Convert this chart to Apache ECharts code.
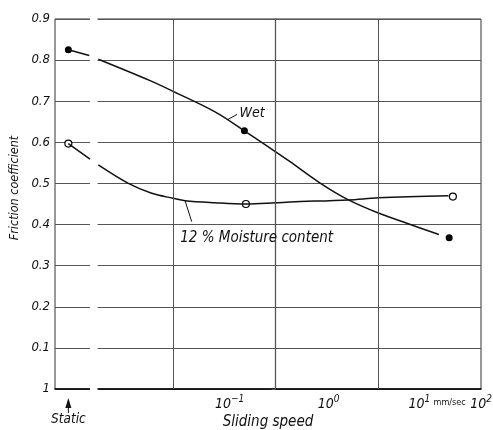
<!DOCTYPE html>
<html>
<head>
<meta charset="utf-8">
<title>Friction coefficient vs sliding speed</title>
<script src="https://cdn.jsdelivr.net/npm/echarts@6/dist/echarts.min.js"></script>
<style>
  html, body { margin: 0; padding: 0; background: #fff; }
  #chart { width: 493px; height: 430px; }
</style>
</head>
<body>
<div id="chart"></div>
<script>
// x values are log10 of sliding speed (mm/sec); static tests sit left of the axis break
const staticX = -2.02
const xMin = -2.15
const xMax = 2
const breakFrom = -1.80
const breakTo = -1.745
const decadeLines = [-1, 0, 1]
const decadeLabels = [-1, 0, 1, 2]

// y axis ticks
const yTicks = [0, 0.1, 0.2, 0.3, 0.4, 0.5, 0.6, 0.7, 0.8, 0.9]

// measured points
const wetDotsX = [staticX, -0.305, 1.69]
const wetDotsY = [0.825, 0.628, 0.368]
const moistDotsX = [staticX, -0.29, 1.726]
const moistDotsY = [0.597, 0.450, 0.468]

// drawn curves, static part (before the break)
const wetStaticX = [staticX, -1.816]
const wetStaticY = [0.825, 0.811]
const moistStaticX = [staticX, -1.809]
const moistStaticY = [0.597, 0.559]

// drawn curves, sliding part
const wetCurveX = [-1.728, -1.224, -1.0, -0.591, -0.305, 0.0, 0.14, 0.433, 0.709, 1.0, 1.278, 1.59]
const wetCurveY = [0.802, 0.750, 0.724, 0.674, 0.628, 0.577, 0.553, 0.501, 0.460, 0.428, 0.403, 0.376]
const moistCurveX = [-1.728, -1.435, -1.208, -1.0, -0.883, -0.591, -0.29, 0.0, 0.14, 0.709, 1.0, 1.683]
const moistCurveY = [0.545, 0.500, 0.476, 0.464, 0.458, 0.453, 0.450, 0.453, 0.455, 0.460, 0.465, 0.470]

// labels and leader lines (data coords)
const wetLabel = { text: 'Wet', at: [-0.357, 0.671], leader: [[-0.47, 0.655], [-0.376, 0.668]] }
const moistLabel = { text: '12 % Moisture content', at: [-0.935, 0.367], leader: [[-0.883, 0.458], [-0.818, 0.407]] }

const FONT = "'DejaVu Sans Condensed', 'DejaVu Sans', sans-serif"
const INK = '#111'

const toPairs = (xs, ys) => xs.map((x, i) => [x, ys[i]])

const near = (a, b) => Math.abs(a - b) < 1e-6

// spacer widths move the printed exponents to where the figure has them
const labelShift = { '-1': 113, '0': 106, '1': 82 }

const xLabelFormatter = (value) => {
  if (near(value, staticX)) return '{sp|\u00a0}\n{st|Static}'
  // unit sits just left of 10^2, the trailing spacer keeps 10^2 on its tick
  if (near(value, 2)) return '{u|mm/sec}{gp|}{b|10}{s|2}{h|}'
  const key = String(Math.round(value))
  const exp = value < 0 ? '\u22121' : key
  return '{g' + key.replace('-', 'm') + '|}{b|10}{s|' + exp + '}'
}

// small arrow under the static points
const renderStaticArrow = (params, api) => {
  const [px, py] = api.coord([api.value(0), api.value(1)])
  return {
    type: 'group',
    children: [
      {
        type: 'polygon',
        shape: { points: [[px, py + 9], [px - 3, py + 19], [px + 3, py + 19]] },
        style: { fill: INK }
      },
      {
        type: 'line',
        shape: { x1: px, y1: py + 18, x2: px, y2: py + 24 },
        style: { stroke: INK, lineWidth: 1 }
      }
    ]
  }
}

const initChart = () => {
  const chart = echarts.init(document.getElementById('chart'), null, { renderer: 'canvas' })

  const textBase = { fontFamily: FONT, fontStyle: 'italic', color: INK }

  const option = {
    animation: false,
    backgroundColor: '#fff',
    grid: {
      left: 55,
      right: 12,
      top: 19,
      bottom: 41,
      containLabel: false,
      outerBoundsMode: 'none',
      show: true,
      borderColor: '#333',
      borderWidth: 1
    },
    xAxis: {
      type: 'value',
      min: xMin,
      max: xMax,
      name: 'Sliding speed',
      nameLocation: 'middle',
      nameGap: 26,
      nameMoveOverlap: false,
      nameTextStyle: { ...textBase, fontSize: 15 },
      axisLine: { lineStyle: { color: '#000', width: 1.5 } },
      axisTick: { show: false },
      splitLine: { show: false },
      axisLabel: {
        customValues: [staticX, ...decadeLabels],
        showMinLabel: true,
        showMaxLabel: true,
        hideOverlap: false,
        margin: 5,
        formatter: xLabelFormatter,
        rich: {
          b: { ...textBase, fontSize: 14, lineHeight: 17, verticalAlign: 'bottom' },
          s: { ...textBase, fontSize: 10, lineHeight: 11, verticalAlign: 'top' },
          sp: { fontSize: 2, lineHeight: 18 },
          st: { ...textBase, fontSize: 13.5, lineHeight: 15 },
          u: { fontFamily: FONT, fontSize: 9, color: INK, width: 33, lineHeight: 17, verticalAlign: 'middle' },
          gp: { width: 4 },
          h: { width: 37 },
          gm1: { width: labelShift['-1'] },
          g0: { width: labelShift['0'] },
          g1: { width: labelShift['1'] }
        }
      }
    },
    yAxis: {
      type: 'value',
      min: yTicks[0],
      max: yTicks[yTicks.length - 1],
      interval: 0.1,
      name: 'Friction coefficient',
      nameLocation: 'middle',
      nameGap: 34,
      nameMoveOverlap: false,
      nameTextStyle: { ...textBase, fontSize: 12.5, padding: [0, 0, 0, 32] },
      axisLine: { show: true, lineStyle: { color: '#000', width: 1.2 } },
      axisTick: { show: true, length: 4, lineStyle: { color: '#555' } },
      splitLine: { lineStyle: { color: '#555', width: 1 } },
      axisLabel: {
        ...textBase,
        fontSize: 13,
        margin: 5,
        formatter: (v) => (near(v, 0) ? '1' : v.toFixed(1))
      }
    },
    series: [
      {
        name: 'Wet',
        type: 'line',
        smooth: 0.35,
        showSymbol: false,
        clip: false,
        silent: true,
        lineStyle: { color: INK, width: 1.5 },
        data: [
          ...toPairs(wetStaticX, wetStaticY),
          [(breakFrom + breakTo) / 2, null],
          ...toPairs(wetCurveX, wetCurveY)
        ],
        // the white band is the break in the axis between static and sliding
        markArea: {
          silent: true,
          itemStyle: { color: '#fff', borderColor: '#fff', borderWidth: 2 },
          data: [[{ xAxis: breakFrom }, { xAxis: breakTo }]]
        },
        markLine: {
          silent: true,
          symbol: ['none', 'none'],
          label: { show: false },
          lineStyle: { color: '#555', width: 1, type: 'solid' },
          data: decadeLines.map((v) => ({ xAxis: v }))
        }
      },
      {
        name: '12 % Moisture content',
        type: 'line',
        smooth: 0.35,
        showSymbol: false,
        clip: false,
        silent: true,
        lineStyle: { color: INK, width: 1.5 },
        data: [
          ...toPairs(moistStaticX, moistStaticY),
          [(breakFrom + breakTo) / 2, null],
          ...toPairs(moistCurveX, moistCurveY)
        ]
      },
      {
        name: 'Wet points',
        type: 'scatter',
        symbol: 'circle',
        symbolSize: 11,
        clip: false,
        silent: true,
        itemStyle: { color: '#000', borderColor: '#fff', borderWidth: 4, opacity: 1 },
        data: toPairs(wetDotsX, wetDotsY)
      },
      {
        name: 'Moisture points',
        type: 'scatter',
        symbol: 'circle',
        symbolSize: 7,
        clip: false,
        silent: true,
        itemStyle: { color: '#fff', borderColor: '#000', borderWidth: 1.2, opacity: 1 },
        data: toPairs(moistDotsX, moistDotsY),
        markLine: {
          silent: true,
          symbol: ['none', 'none'],
          label: { show: false },
          lineStyle: { color: INK, width: 1, type: 'solid' },
          data: [
            [{ coord: wetLabel.leader[0] }, { coord: wetLabel.leader[1] }],
            [{ coord: moistLabel.leader[0] }, { coord: moistLabel.leader[1] }]
          ]
        },
        markPoint: {
          silent: true,
          symbol: 'circle',
          symbolSize: 1,
          itemStyle: { color: 'rgba(0,0,0,0)' },
          label: {
            show: true,
            position: 'right',
            distance: 0,
            ...textBase,
            fontSize: 15
          },
          data: [
            { coord: wetLabel.at, label: { formatter: wetLabel.text, fontSize: 14 } },
            { coord: moistLabel.at, label: { formatter: moistLabel.text } }
          ]
        }
      },
      {
        name: 'Static',
        type: 'custom',
        silent: true,
        clip: false,
        data: [[staticX, yTicks[0]]],
        renderItem: renderStaticArrow
      }
    ]
  }

  chart.setOption(option)
}

initChart()
</script>
</body>
</html>
